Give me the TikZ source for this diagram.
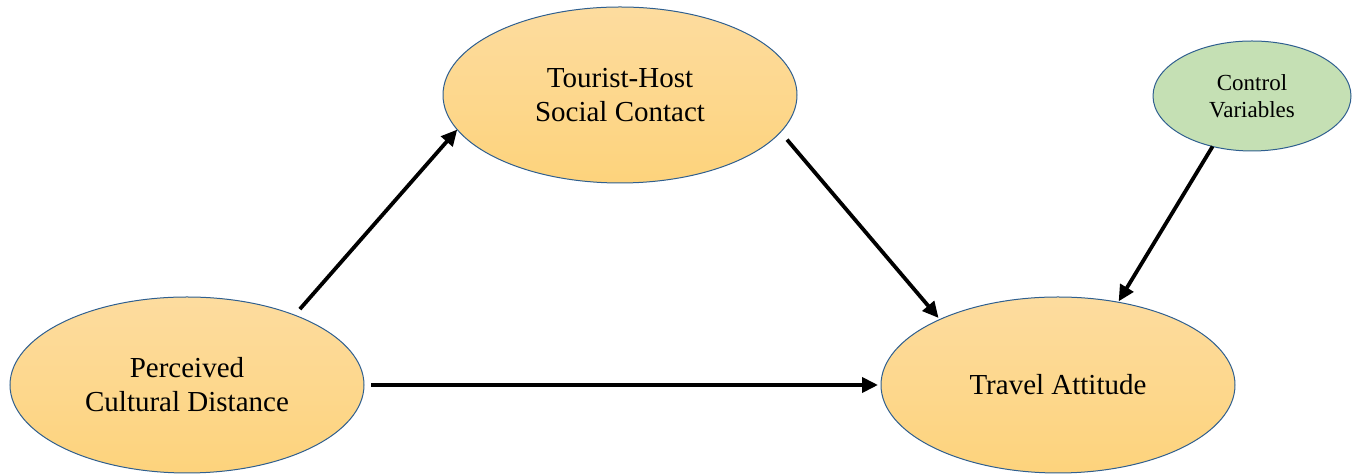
\documentclass[tikz,border=0pt]{standalone}
\usepackage{fontspec}
\setmainfont{Liberation Serif}
\usetikzlibrary{shapes.geometric,arrows.meta}
\definecolor{bordblue}{HTML}{2F5F8F}
\definecolor{orangetop}{HTML}{FDDC9F}
\definecolor{orangebot}{HTML}{FDD37C}
\definecolor{greenfill}{HTML}{C5E0B4}
\tikzset{
  bigell/.style={ellipse, draw=bordblue, line width=0.5pt, top color=orangetop, bottom color=orangebot,
    minimum width=177pt, minimum height=88pt, inner sep=0pt, outer sep=0pt, align=center,
    font=\fontsize{14.5}{17}\selectfont},
  smallell/.style={ellipse, draw=bordblue, line width=0.5pt, fill=greenfill,
    minimum width=99pt, minimum height=55pt, inner sep=0pt, outer sep=0pt, align=center,
    font=\fontsize{11.5}{13.5}\selectfont},
  conn/.style={line width=1.9pt, -{Triangle[length=8pt,width=7.5pt]}}
}
\begin{document}
\begin{tikzpicture}[x=0.5pt,y=-0.5pt]
\useasboundingbox (0,0) rectangle (1361,474);
\node[bigell] (ths) at (620,95) {Tourist-Host\\Social Contact};
\node[bigell] (pcd) at (187,385) {Perceived\\Cultural Distance};
\node[bigell] (ta) at (1058,385) {Travel Attitude};
\node[smallell] (cv) at (1252,96) {Control\\Variables};
\draw[conn, shorten <=4pt] (pcd.33.8) -- (ths.192.3);
\draw[conn, shorten <=5pt, shorten >=1pt] (ths.-13.2) -- (ta.151.8);
\draw[conn, shorten <=3.5pt, shorten >=1.5pt] (pcd.east) -- (ta.west);
\draw[conn, shorten >=0.5pt] (cv.232.4) -- (ta.54.3);
\end{tikzpicture}
\end{document}
